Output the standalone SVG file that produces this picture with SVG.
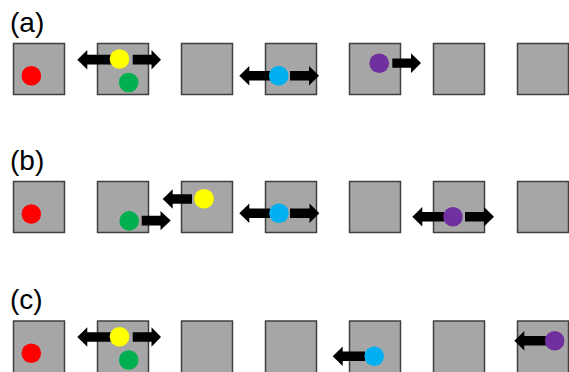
<svg xmlns="http://www.w3.org/2000/svg" width="569" height="372" viewBox="0 0 569 372">
<style>
.lbl{font-family:"Liberation Sans",Arial,sans-serif;font-size:28px;fill:#000}
.sq{fill:#a6a6a6;stroke:#404040;stroke-width:1.5}
.arrow{fill:#000}
.red{fill:#ff0000}.yel{fill:#ffff00}.grn{fill:#00b050}.cyn{fill:#00b0f0}.pur{fill:#7030a0}
</style>
<rect width="569" height="372" fill="#fff"/>
<text class="lbl" x="10" y="32">(a)</text>
<text class="lbl" x="10" y="170">(b)</text>
<text class="lbl" x="10" y="309">(c)</text>

<g id="row-a">
<g id="a1"><rect class="sq" x="13.5" y="43.5" width="51" height="51"/></g>
<g id="a2"><rect class="sq" x="97.5" y="43.5" width="51" height="51"/></g>
<g id="a3"><rect class="sq" x="181.5" y="43.5" width="51" height="51"/></g>
<g id="a4"><rect class="sq" x="265.5" y="43.5" width="51" height="51"/></g>
<g id="a5"><rect class="sq" x="349.5" y="43.5" width="51" height="51"/></g>
<g id="a6"><rect class="sq" x="433.5" y="43.5" width="51" height="51"/></g>
<g id="a7"><rect class="sq" x="517.5" y="43.5" width="51" height="51"/></g>
</g>
<g id="row-b">
<g id="b1"><rect class="sq" x="13.5" y="181.5" width="51" height="51"/></g>
<g id="b2"><rect class="sq" x="97.5" y="181.5" width="51" height="51"/></g>
<g id="b3"><rect class="sq" x="181.5" y="181.5" width="51" height="51"/></g>
<g id="b4"><rect class="sq" x="265.5" y="181.5" width="51" height="51"/></g>
<g id="b5"><rect class="sq" x="349.5" y="181.5" width="51" height="51"/></g>
<g id="b6"><rect class="sq" x="433.5" y="181.5" width="51" height="51"/></g>
<g id="b7"><rect class="sq" x="517.5" y="181.5" width="51" height="51"/></g>
</g>
<g id="row-c">
<g id="c1"><rect class="sq" x="13.5" y="321" width="51" height="53"/></g>
<g id="c2"><rect class="sq" x="97.5" y="321" width="51" height="53"/></g>
<g id="c3"><rect class="sq" x="181.5" y="321" width="51" height="53"/></g>
<g id="c4"><rect class="sq" x="265.5" y="321" width="51" height="53"/></g>
<g id="c5"><rect class="sq" x="349.5" y="321" width="51" height="53"/></g>
<g id="c6"><rect class="sq" x="433.5" y="321" width="51" height="53"/></g>
<g id="c7"><rect class="sq" x="517.5" y="321" width="51" height="53"/></g>
</g>

<g id="connectors">
<!-- row a -->
<polygon class="arrow" points="112,54.8 87.3,54.8 87.3,50 77.3,59.7 87.3,69.4 87.3,64.6 112,64.6"/>
<polygon class="arrow" points="132.7,54.8 151.5,54.8 151.5,50 161,59.7 151.5,69.4 151.5,64.6 132.7,64.6"/>
<polygon class="arrow" points="272,71 249.3,71 249.3,66 239.3,75.8 249.3,85.6 249.3,80.6 272,80.6"/>
<polygon class="arrow" points="290,71 309,71 309,66 319,75.8 309,85.6 309,80.6 290,80.6"/>
<polygon class="arrow" points="392.3,58.4 411,58.4 411,53.3 421,63.1 411,72.9 411,67.8 392.3,67.8"/>
<!-- row b -->
<polygon class="arrow" points="141.7,215.7 160.5,215.7 160.5,210.9 170.7,220.6 160.5,230.3 160.5,225.5 141.7,225.5"/>
<polygon class="arrow" points="192,194.2 172.7,194.2 172.7,189.3 162.7,199 172.7,208.7 172.7,203.8 192,203.8"/>
<polygon class="arrow" points="270,208.6 249.3,208.6 249.3,203.6 239.3,213.3 249.3,223 249.3,218 270,218"/>
<polygon class="arrow" points="290,208.6 309.5,208.6 309.5,203.6 319.3,213.3 309.5,223 309.5,218 290,218"/>
<polygon class="arrow" points="444,212 422.3,212 422.3,207 412.3,216.7 422.3,226.4 422.3,221.4 444,221.4"/>
<polygon class="arrow" points="465,212 484,212 484,207 494,216.7 484,226.4 484,221.4 465,221.4"/>
<!-- row c -->
<polygon class="arrow" points="112,332.2 87.3,332.2 87.3,327.3 77.3,337 87.3,346.7 87.3,341.8 112,341.8"/>
<polygon class="arrow" points="132.7,332.2 151.5,332.2 151.5,327.3 161,337 151.5,346.7 151.5,341.8 132.7,341.8"/>
<polygon class="arrow" points="365,351.5 342.7,351.5 342.7,346.6 332.7,356.3 342.7,366 342.7,361.1 365,361.1"/>
<polygon class="arrow" points="546,336 524.3,336 524.3,331 514.3,340.8 524.3,350.6 524.3,345.6 546,345.6"/>
</g>

<g id="particles">
<circle class="red" cx="31.3" cy="75.7" r="9.8"/>
<circle class="yel" cx="119.5" cy="59" r="9.8"/>
<circle class="grn" cx="128.7" cy="82.5" r="9.8"/>
<circle class="cyn" cx="278.7" cy="75.7" r="9.8"/>
<circle class="pur" cx="379.2" cy="63.3" r="9.8"/>

<circle class="red" cx="31.3" cy="214" r="9.8"/>
<circle class="grn" cx="129.2" cy="220.9" r="9.8"/>
<circle class="yel" cx="204" cy="198.8" r="9.8"/>
<circle class="cyn" cx="279" cy="213.3" r="9.8"/>
<circle class="pur" cx="453" cy="216.7" r="9.8"/>

<circle class="red" cx="31.3" cy="353.3" r="9.8"/>
<circle class="yel" cx="119.5" cy="336.7" r="9.8"/>
<circle class="grn" cx="128.7" cy="360" r="9.8"/>
<circle class="cyn" cx="374.2" cy="356.3" r="9.8"/>
<circle class="pur" cx="554.7" cy="340.8" r="9.8"/>
</g>
</svg>
